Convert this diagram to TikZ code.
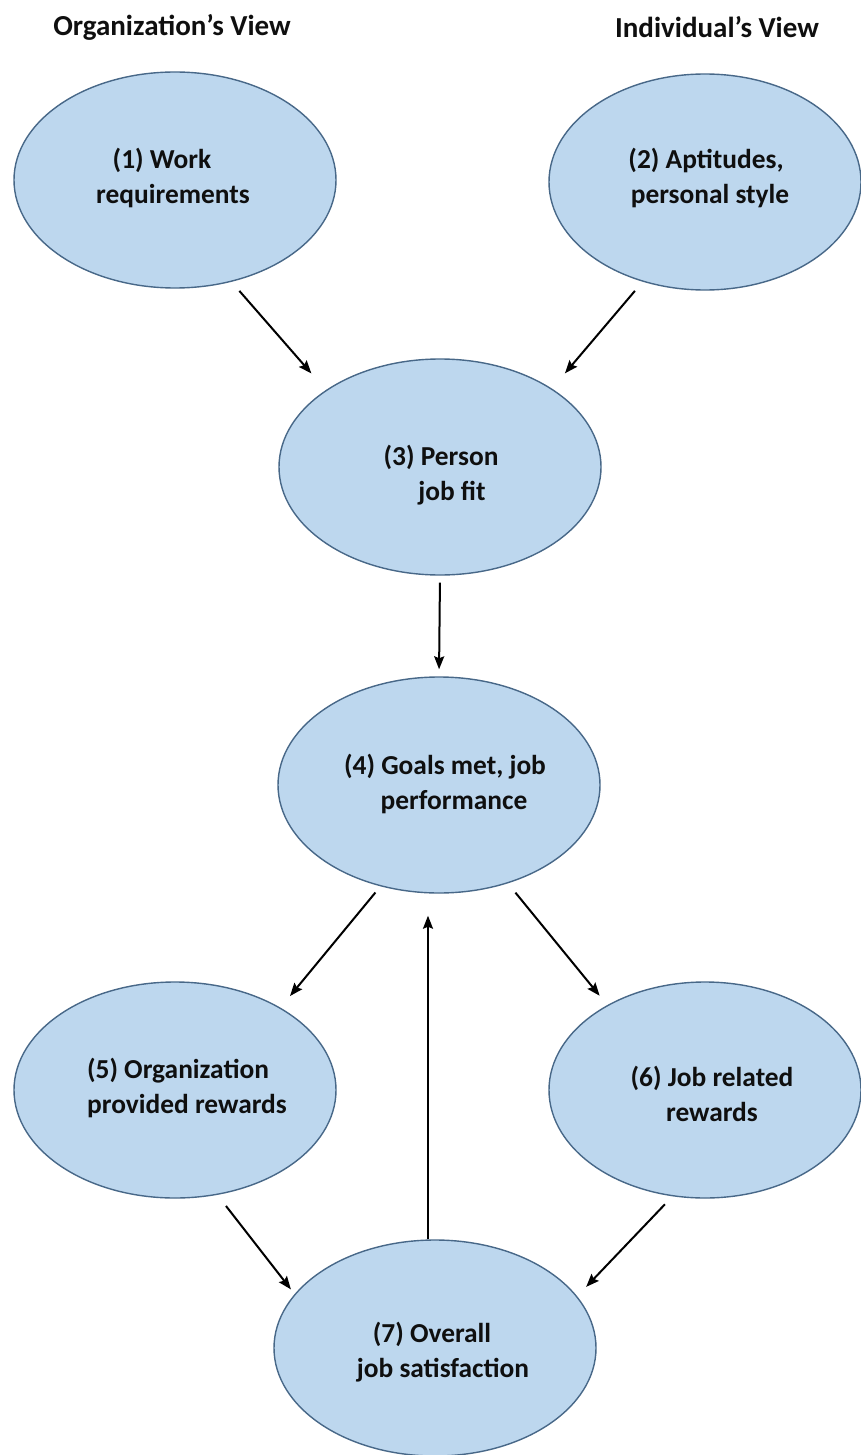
\documentclass[tikz,border=0pt]{standalone}
\usepackage{fontspec}
\setmainfont{Carlito}
\usetikzlibrary{arrows.meta,shapes.geometric}
\definecolor{ellfill}{RGB}{189,215,238}
\definecolor{elldraw}{RGB}{72,104,136}
\definecolor{txtcol}{RGB}{15,15,15}
\begin{document}
\begin{tikzpicture}[x=1pt,y=-1pt,
 ell/.style={ellipse, draw=elldraw, fill=ellfill, line width=1.4pt, minimum width=322pt, minimum height=216pt, inner sep=0pt},
 txt/.style={font=\fontsize{27.4}{35}\selectfont\bfseries, text=txtcol, align=center, inner sep=0pt},
 ttl/.style={font=\fontsize{29}{35}\selectfont\bfseries, text=txtcol, inner sep=0pt},
 arr/.style={draw=black, line width=2pt, -{Stealth[length=13pt,width=10pt,inset=2pt]}}]
\path[fill=white] (0,0) rectangle (860,1455);
\useasboundingbox (0,0) rectangle (860,1455);

\node[ttl] (h1) at (172,27) {Organization’s View};
\node[ttl] (h2) at (717,27) {Individual’s View};

\node[ell] (n1) at (175,180) {};
\node[ell, minimum width=312pt] (n2) at (705,182) {};
\node[ell] (n3) at (440,467) {};
\node[ell] (n4) at (439,785) {};
\node[ell] (n5) at (175,1090) {};
\node[ell, minimum width=312pt] (n6) at (705,1090) {};
\node[ell] (n7) at (435,1348) {};

\node[txt] (t1) at (162,178) {(1) Work\\\hspace*{22pt}requirements};
\node[txt] (t2) at (706,178) {(2) Aptitudes,\\\hspace*{8pt}personal style};
\node[txt] (t3) at (441,475) {(3) Person\\\hspace*{22pt}job fit};
\node[txt] (t4) at (445,784) {(4) Goals met, job\\\hspace*{18pt}performance};
\node[txt] (t5) at (178,1088) {(5) Organization\\\hspace*{18pt}provided rewards};
\node[txt] (t6) at (712,1094) {(6) Job related\\rewards};
\node[txt] (t7) at (432,1352) {(7) Overall\\\hspace*{22pt}job satisfaction};

\draw[arr, shorten <=12pt, shorten >=22pt] (n1.-61) -- (n3.146);
\draw[arr, shorten <=12pt, shorten >=20pt] (n2.-122) -- (n3.35);
\draw[arr, shorten <=7pt, shorten >=7pt] (n3.south) -- (n4.north);
\draw[arr, shorten <=8pt, shorten >=15pt] (n4.-120) -- (n5.38);
\draw[arr, shorten <=12pt, shorten >=12pt] (n4.-55) -- (n6.139);
\draw[arr, shorten <=14pt, shorten >=6pt] (n5.-68) -- (n7.159);
\draw[arr, shorten <=11pt, shorten >=13pt] (n6.-107) -- (n7.20);
\draw[arr, shorten >=22pt] ([xshift=-7pt]n7.north) -- ([xshift=-11pt]n4.south);
\end{tikzpicture}
\end{document}
